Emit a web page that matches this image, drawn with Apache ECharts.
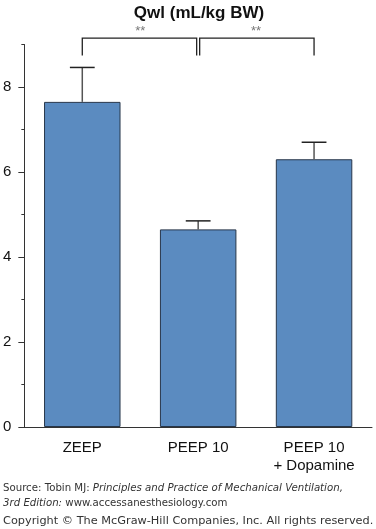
<!DOCTYPE html>
<html>
<head>
<meta charset="utf-8">
<script src="https://cdn.jsdelivr.net/npm/echarts@6/dist/echarts.min.js"></script>
<style>
  html, body { margin: 0; padding: 0; background: #fff; }
  #chart { width: 376px; height: 529px; }
</style>
</head>
<body>
<div id="chart"></div>
<script>
// 数据
const groups = ['ZEEP', 'PEEP 10', 'PEEP 10\n+ Dopamine'];
const qwlMean = [7.65, 4.65, 6.3];
const qwlErr = [0.81, 0.2, 0.4];
const yTicks = [0, 2, 4, 6, 8];
const yMinorTicks = [0, 1, 2, 3, 4, 5, 6, 7, 8, 9];
// 显著性比较 (组下标)
const sigPairs = [[0, 1], [1, 2]];
const sigMarks = ['**', '**'];

const myChart = echarts.init(document.getElementById('chart'));

const errData = groups.map((g, i) => [i, qwlMean[i], qwlErr[i]]);
const sigData = sigPairs.map((p, i) => [p[0], p[1], i]);

const option = {
  animation: false,
  backgroundColor: '#fff',
  title: {
    text: 'Qwl (mL/kg BW)',
    left: 194,
    top: 0,
    textAlign: 'center',
    textStyle: { fontFamily: 'Liberation Sans', fontSize: 17, fontWeight: 'bold', color: '#111' }
  },
  grid: { left: 21, right: 4, top: 44.5, bottom: 102 },
  xAxis: {
    type: 'category',
    data: groups,
    axisLine: { lineStyle: { color: '#333', width: 1 } },
    axisTick: { show: false },
    axisLabel: {
      color: '#111',
      fontFamily: 'Liberation Sans',
      fontSize: 15,
      lineHeight: 18,
      margin: 12,
      interval: 0
    }
  },
  yAxis: [{
    type: 'value',
    min: 0,
    max: 9,
    interval: 1,
    splitLine: { show: false },
    axisLine: { show: true, lineStyle: { color: '#333', width: 1 } },
    axisTick: { show: true, length: 3, customValues: yMinorTicks, lineStyle: { color: '#333' } },
    axisLabel: {
      color: '#111',
      fontFamily: 'Liberation Sans',
      fontSize: 15,
      margin: 13,
      customValues: yTicks
    }
  }, {
    // 主刻度 (偶数) 更长
    type: 'value',
    position: 'left',
    min: 0,
    max: 9,
    interval: 1,
    splitLine: { show: false },
    axisLine: { show: false },
    axisTick: { show: true, length: 6, customValues: yTicks, lineStyle: { color: '#333' } },
    axisLabel: { show: false }
  }],
  series: [{
    type: 'bar',
    data: qwlMean,
    barWidth: '66%',
    itemStyle: { color: '#5b8bc0', borderColor: '#27364a', borderWidth: 1 },
    z: 2
  }, {
    type: 'custom',
    data: errData,
    z: 3,
    renderItem: (params, api) => {
      const x = api.value(0);
      const v = api.value(1);
      const e = api.value(2);
      const base = api.coord([x, v]);
      const top = api.coord([x, v + e]);
      const half = api.size([1, 0])[0] * 0.107;
      return {
        type: 'group',
        children: [
          { type: 'line', shape: { x1: base[0], y1: base[1], x2: top[0], y2: top[1] }, style: { stroke: '#555', lineWidth: 1.5 } },
          { type: 'line', shape: { x1: top[0] - half, y1: top[1], x2: top[0] + half, y2: top[1] }, style: { stroke: '#222', lineWidth: 1.5 } }
        ]
      };
    }
  }, {
    // 显著性括号
    type: 'custom',
    data: sigData,
    clip: false,
    z: 3,
    renderItem: (params, api) => {
      const a = api.value(0);
      const b = api.value(1);
      const idx = api.value(2);
      const gap = 1.5;
      const l = api.coord([a, 9.15]);
      const r = api.coord([b, 9.15]);
      const lb = api.coord([a, 8.74]);
      const star = api.coord([a, 9.31]);
      const x1 = l[0] + (idx > 0 ? gap : 0);
      const x2 = r[0] - (idx === 0 ? gap : 0);
      return {
        type: 'group',
        children: [
          {
            type: 'polyline',
            shape: { points: [[x1, lb[1]], [x1, l[1]], [x2, l[1]], [x2, lb[1]]] },
            style: { stroke: '#222', lineWidth: 1.3, fill: null }
          },
          {
            type: 'text',
            style: {
              x: (l[0] + r[0]) / 2, y: star[1], text: sigMarks[idx],
              align: 'center', verticalAlign: 'middle',
              fill: '#777', font: '13px "Liberation Sans"'
            }
          }
        ]
      };
    }
  }],
  graphic: [{
    type: 'text',
    left: 3,
    top: 483,
    style: {
      text: '{n|Source: Tobin MJ: }{i|Principles and Practice of Mechanical Ventilation,}\n{i|3rd Edition:}{n| www.accessanesthesiology.com}',
      rich: {
        n: { fontFamily: 'DejaVu Sans', fontSize: 10.2, fill: '#333', lineHeight: 15 },
        i: { fontFamily: 'DejaVu Sans', fontStyle: 'italic', fontSize: 10.2, fill: '#333', lineHeight: 15 }
      }
    }
  }, {
    type: 'text',
    left: 3,
    top: 516,
    style: {
      text: 'Copyright © The McGraw-Hill Companies, Inc. All rights reserved.',
      fontFamily: 'DejaVu Sans',
      fontSize: 11.3,
      fill: '#333'
    }
  }]
};

myChart.setOption(option);
</script>
</body>
</html>
